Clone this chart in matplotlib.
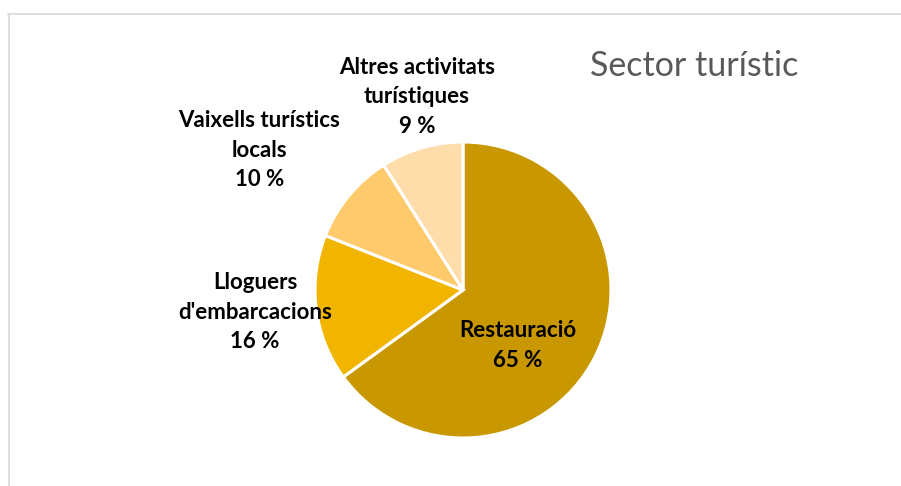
import matplotlib.pyplot as plt
from matplotlib.lines import Line2D

# dades del sector turístic
categories = ['Restauració', "Lloguers\nd'embarcacions", 'Vaixells turístics\nlocals',
              'Altres activitats\nturístiques']
percent = [65, 16, 10, 9]
colors = ['#C99700', '#F1B500', '#FFCA6B', '#FFDDAB']

plt.rcParams['font.family'] = ['Lato', 'DejaVu Sans']

W, H = 901, 486
fig = plt.figure(figsize=(W / 100, H / 100), dpi=100)

# eixos del pastís: centre (463, 290), radi 148 px
cx, cy, r = 463, 290, 148
ax = fig.add_axes([(cx - r) / W, (H - cy - r) / H, 2 * r / W, 2 * r / H])
ax.pie(percent, colors=colors, startangle=90, counterclock=False, radius=1,
       wedgeprops=dict(edgecolor='white', linewidth=2.2))
ax.set_xlim(-1, 1)
ax.set_ylim(-1, 1)
ax.set_aspect('equal')
ax.axis('off')

# posicions de les etiquetes (en unitats de radi)
label_pos = [(0.37, -0.375), (-1.405, -0.15), (-1.375, 0.945), (-0.31, 1.305)]
for name, p, (lx, ly) in zip(categories, percent, label_pos):
    ax.text(lx, ly, f'{name}\n{p} %', ha='center', va='center', fontsize=16,
            fontweight='bold', color='#000000', linespacing=1.5, clip_on=False)

fig.text(590 / W, 1 - 66 / H, 'Sector turístic', ha='left', va='center',
         fontsize=24.5, color='#595959')

# vora del gràfic
fig.add_artist(Line2D([8 / W, 1], [1 - 14.5 / H] * 2, color='#D9D9D9', lw=1.2,
                      transform=fig.transFigure))
fig.add_artist(Line2D([8.5 / W] * 2, [0, 1 - 14 / H], color='#D9D9D9', lw=1.2,
                      transform=fig.transFigure))

fig.savefig('out.png', dpi=100)
